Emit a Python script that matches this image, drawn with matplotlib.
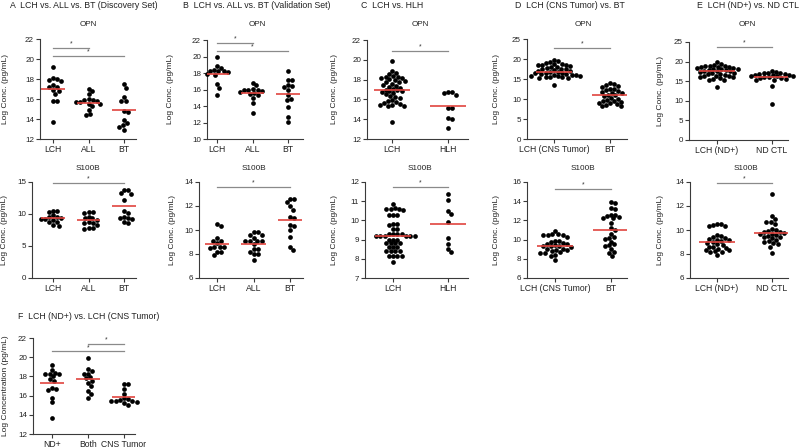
import numpy as np
import matplotlib
matplotlib.use('Agg')
import matplotlib.pyplot as plt

plt.rcParams['font.family'] = ['Liberation Sans', 'DejaVu Sans']

# ---------------- data ----------------
A_OPN_LCH = [19.2, 18.1, 18.0, 17.9, 17.8, 17.4, 17.2, 17.2, 16.9, 16.8, 16.5, 15.8, 15.8, 13.7]
A_OPN_ALL = [17.0, 16.8, 16.5, 16.0, 15.9, 15.9, 15.8, 15.7, 15.7, 15.5, 15.5, 15.3, 14.9, 14.5, 14.4]
A_OPN_BT = [17.5, 17.1, 16.2, 15.8, 15.8, 14.8, 14.7, 13.9, 13.6, 13.4, 13.2, 12.9]
A_OPN_MED = [17.0, 15.6, 14.9]

B_OPN_LCH = [19.9, 18.8, 18.6, 18.4, 18.3, 18.2, 18.2, 18.1, 17.9, 17.8, 16.7, 16.2, 15.3]
B_OPN_ALL = [16.8, 16.5, 16.1, 16.0, 16.0, 15.9, 15.8, 15.7, 15.6, 15.5, 15.3, 15.0, 14.4, 13.2]
B_OPN_BT = [18.2, 17.2, 17.1, 16.5, 16.4, 16.3, 15.9, 15.3, 14.9, 14.7, 13.9, 12.7, 12.1]
B_OPN_MED = [17.9, 15.6, 15.5]

C_OPN_LCH = [19.9, 18.9, 18.7, 18.6, 18.4, 18.3, 18.3, 18.2, 18.2, 18.1, 18.0, 17.9,
             17.8, 17.8, 17.6, 17.5, 17.4, 17.3, 17.2, 17.1, 17.0, 16.9, 16.8, 16.8,
             16.7, 16.6, 16.5, 16.3, 16.2, 16.1, 15.9, 15.8, 15.7, 15.6, 15.5,
             15.4, 15.4, 15.3, 15.3, 13.7]
C_OPN_HLH = [16.7, 16.6, 16.7, 16.4, 15.1, 15.1, 14.1, 14.0, 13.1]
C_OPN_MED = [17.0, 15.3]

D_OPN_LCH = [19.8, 19.4, 19.2, 18.9, 18.8, 18.7, 18.6, 18.5, 18.4, 18.2, 18.0, 17.9,
             17.8, 17.6, 17.5, 17.4, 17.2, 17.1, 17.0, 16.8, 16.7, 16.6, 16.5, 16.4,
             16.3, 16.2, 16.1, 16.0, 15.9, 15.8, 15.8, 15.7, 15.6, 15.5, 15.4, 15.3,
             15.2, 13.6]
D_OPN_BT = [13.9, 13.7, 13.6, 13.2, 13.0, 12.6, 12.5, 12.3, 12.1, 11.8, 11.6, 11.4,
            11.1, 10.9, 10.7, 10.3, 10.1, 9.7, 9.6, 9.4, 9.3, 9.1, 8.9, 8.7, 8.6, 8.3, 8.2]
D_OPN_MED = [16.8, 11.0]

E_OPN_LCH = [20.0, 19.4, 19.2, 19.0, 18.9, 18.8, 18.7, 18.6, 18.5, 18.4, 18.3, 18.2,
             18.1, 18.0, 17.9, 17.8, 17.7, 17.6, 17.5, 17.4, 17.2, 17.0, 16.9, 16.8,
             16.6, 16.4, 16.3, 16.2, 16.1, 16.0, 15.8, 15.6, 15.4, 15.2, 13.6]
E_OPN_CTL = [17.6, 17.4, 17.2, 17.1, 17.0, 16.9, 16.8, 16.7, 16.6, 16.5, 16.4, 16.3,
             16.2, 16.1, 16.0, 15.9, 15.8, 15.6, 15.4, 15.2, 13.7, 9.3]
E_OPN_MED = [17.6, 16.0]

A_S_LCH = [10.5, 10.5, 10.3, 9.8, 9.6, 9.6, 9.3, 9.2, 9.2, 9.0, 8.7, 8.7, 8.3, 8.1]
A_S_ALL = [10.3, 10.3, 10.2, 9.6, 9.3, 9.3, 9.1, 8.8, 8.6, 8.6, 8.3, 7.8, 7.8, 7.6]
A_S_BT = [13.8, 13.7, 13.3, 13.2, 12.2, 10.5, 10.1, 9.6, 9.4, 9.4, 9.2, 8.8, 8.6]
A_S_MED = [9.3, 9.0, 11.3]

B_S_LCH = [10.5, 10.3, 9.3, 9.1, 9.1, 8.9, 8.6, 8.6, 8.5, 8.6, 8.2, 8.2, 7.9]
B_S_ALL = [9.8, 9.8, 9.6, 9.6, 9.3, 9.1, 9.1, 9.1, 9.1, 8.8, 8.4, 8.4, 8.2, 8.0, 8.0, 7.5]
B_S_BT = [12.6, 12.6, 12.3, 12.0, 11.7, 11.1, 11.0, 10.4, 10.3, 10.0, 9.4, 8.6, 8.3]
B_S_MED = [8.85, 8.8, 10.85]

C_S_LCH = [10.88, 10.67, 10.57, 10.57, 10.57, 10.55, 10.3, 10.3, 10.3,
           9.8, 9.8, 9.75, 9.55, 9.55, 9.3, 9.3, 9.3, 9.3, 9.2, 9.2, 9.2, 9.2,
           9.2, 9.2, 9.0, 9.0, 9.0, 8.8, 8.8, 8.8, 8.8, 8.6, 8.6, 8.6,
           8.4, 8.4, 8.4, 8.4, 8.15, 8.15, 8.15, 8.15, 7.85]
C_S_HLH = [11.35, 11.05, 10.5, 10.35, 9.9, 9.1, 8.75, 8.5, 8.35]
C_S_MED = [9.2, 9.8]

D_S_LCH = [10.9, 10.6, 10.55, 10.5, 10.5, 10.45, 10.3, 9.9, 9.85, 9.8, 9.6, 9.55,
           9.5, 9.4, 9.35, 9.3, 9.3, 9.25, 9.05, 9.0, 8.95, 8.9, 8.8, 8.7,
           8.65, 8.6, 8.4, 8.3, 7.9]
D_S_BT = [13.9, 13.8, 13.3, 13.2, 12.6, 12.6, 12.5, 12.4, 12.3, 12.2, 11.7, 11.2,
          11.0, 10.6, 10.3, 10.2, 10.1, 9.8, 9.5, 9.4, 9.3, 9.0, 8.7, 8.6, 8.3]
D_S_MED = [9.35, 11.05]

E_S_LCH = [10.5, 10.5, 10.4, 10.3, 10.3, 9.6, 9.5, 9.45, 9.3, 9.25, 9.2, 9.1, 9.15,
           9.0, 8.95, 8.8, 8.75, 8.6, 8.55, 8.5, 8.45, 8.3, 8.3, 8.25, 8.2, 8.15, 7.9]
E_S_CTL = [13.0, 11.2, 10.9, 10.7, 10.65, 10.5, 10.1, 10.0, 9.9, 9.85, 9.8, 9.75,
           9.7, 9.65, 9.6, 9.5, 9.45, 9.4, 9.3, 9.2, 9.05, 9.0, 8.9, 8.85, 8.6, 8.1]
E_S_MED = [9.0, 9.75]

F_ND = [19.2, 18.7, 18.4, 18.3, 18.3, 18.2, 18.0, 17.7, 17.5, 16.8, 16.7, 16.6, 15.8, 15.3, 13.7]
F_BOTH = [19.9, 18.8, 18.6, 18.3, 18.2, 17.9, 17.8, 17.5, 17.3, 17.0, 16.5, 16.2, 15.8]
F_CNS = [17.2, 17.2, 16.7, 16.2, 15.7, 15.6, 15.5, 15.4, 15.4, 15.4, 15.3, 15.2, 15.0]
F_MED = [17.3, 17.7, 15.85]

CATS_3 = ['LCH', 'ALL', 'BT']
CATS_C = ['LCH', 'HLH']
CATS_D = ['LCH (CNS Tumor)', 'BT']
CATS_E = ['LCH (ND+)', 'ND CTL']
CATS_F = ['ND+', 'Both', 'CNS Tumor']

# ---------------- style ----------------
W, H = 800, 448
fig = plt.figure(figsize=(W / 100, H / 100), dpi=100)
RED = '#e0443e'
GRAY = '#8a8a8a'
AXC = '#3a3a3a'
TXT = '#222222'
DOT_PX = 4.4
FS_T = 6.3
FS_SUB = 5.9
FS_XT = 6.2
FS_YT = 5.8
FS_YL = 6.0


def swarm(values, pxu, d):
    ys = np.asarray(values, float) * pxu
    order = np.argsort(-ys, kind='stable')
    placed = []
    xs = np.zeros(len(ys))
    for i in order:
        y = ys[i]
        cands = [0.0]
        for px, py in placed:
            dy = abs(py - y)
            if dy < d:
                dx = np.sqrt(d * d - dy * dy)
                cands += [px + dx, px - dx]
        cands = sorted(cands, key=lambda c: (abs(c), -c))
        for c in cands:
            if all((c - px) ** 2 + (y - py) ** 2 >= d * d - 1e-6 for px, py in placed):
                xs[i] = c
                placed.append((c, y))
                break
    return xs


def panel(box, cat_px, ylim, yticks, cats, groups, medians, sigs,
          subtitle, sub_xy, ylabel, ylabel_x):
    L, R, T, B = box
    ax = fig.add_axes([L / W, 1 - B / H, (R - L) / W, (B - T) / H])
    s = cat_px[1] - cat_px[0]
    c0 = cat_px[0]
    ax.set_xlim((L - c0) / s, (R - c0) / s)
    ax.set_ylim(*ylim)
    pxu = (B - T) / (ylim[1] - ylim[0])
    for i, vals in enumerate(groups):
        off = swarm(vals, pxu, DOT_PX)
        ax.scatter(i + off / s, vals, s=11.5, c='black', linewidths=0,
                   clip_on=False, zorder=3)
        ax.plot([i - 0.33, i + 0.33], [medians[i]] * 2, color=RED, lw=1.2,
                zorder=4, solid_capstyle='butt')
    for a, b, yv in sigs:
        ax.plot([a, b], [yv, yv], color=GRAY, lw=0.9, clip_on=False)
        ax.text((a + b) / 2, yv + (ylim[1] - ylim[0]) * 0.005, '*',
                ha='center', va='bottom', fontsize=4.8, color='#333333')
    ax.set_xticks(range(len(cats)))
    ax.set_xticklabels(cats)
    ax.set_yticks(yticks)
    for sp in ['top', 'right']:
        ax.spines[sp].set_visible(False)
    for sp in ['left', 'bottom']:
        ax.spines[sp].set_color(AXC)
        ax.spines[sp].set_linewidth(0.8)
    ax.tick_params(axis='both', length=2.8, width=0.8, color=AXC, pad=1.5,
                   labelcolor=TXT)
    ax.tick_params(axis='x', labelsize=FS_XT)
    ax.tick_params(axis='y', labelsize=FS_YT)
    if subtitle:
        fig.text(sub_xy[0] / W, 1 - sub_xy[1] / H, subtitle, ha='center',
                 va='center', fontsize=FS_SUB, color=TXT)
    fig.text(ylabel_x / W, 1 - ((T + B) / 2) / H, ylabel, rotation=90,
             ha='center', va='center', fontsize=FS_YL, color=TXT)
    return ax


YL = 'Log Conc. (pg/mL)'

# Row 1: OPN
panel((40, 136, 39, 139), (53, 88.5), (12, 22), range(12, 23, 2), CATS_3,
      [A_OPN_LCH, A_OPN_ALL, A_OPN_BT], A_OPN_MED, [(0, 1, 21.1), (0, 2, 20.3)],
      'OPN', (88, 24), YL, 6)
panel((207, 303, 40, 139), (217, 252.5), (10, 22), range(10, 23, 2), CATS_3,
      [B_OPN_LCH, B_OPN_ALL, B_OPN_BT], B_OPN_MED, [(0, 1, 21.6), (0, 2, 20.7)],
      'OPN', (257, 24), YL, 170)
panel((367, 468, 40, 139), (392, 448), (12, 22), range(12, 23, 2), CATS_C,
      [C_OPN_LCH, C_OPN_HLH], C_OPN_MED, [(0, 1, 20.9)],
      'OPN', (420, 24), YL, 335)
panel((527, 627, 39, 139), (554, 610), (0, 25), range(0, 26, 5), CATS_D,
      [D_OPN_LCH, D_OPN_BT], D_OPN_MED, [(0, 1, 22.8)],
      'OPN', (583, 24), YL, 497)
panel((689, 788, 42, 140), (717, 772), (0, 25), range(0, 26, 5), CATS_E,
      [E_OPN_LCH, E_OPN_CTL], E_OPN_MED, [(0, 1, 23.7)],
      'OPN', (747, 24), YL, 660)

# Row 2: S100B
panel((32, 136, 182, 278), (53, 88.5), (0, 15), range(0, 16, 5), CATS_3,
      [A_S_LCH, A_S_ALL, A_S_BT], A_S_MED, [(0, 2, 14.9)],
      'S100B', (88, 169), YL, 5)
panel((199, 303, 182, 278), (217, 253.5), (6, 14), range(6, 15, 2), CATS_3,
      [B_S_LCH, B_S_ALL, B_S_BT], B_S_MED, [(0, 2, 13.6)],
      'S100B', (254, 169), YL, 172)
panel((365, 468, 182, 278), (393, 448), (7, 12), range(7, 13, 1), CATS_C,
      [C_S_LCH, C_S_HLH], C_S_MED, [(0, 1, 11.74)],
      'S100B', (420, 169), YL, 335)
panel((527, 627, 182, 278), (555, 611), (6, 16), range(6, 17, 2), CATS_D,
      [D_S_LCH, D_S_BT], D_S_MED, [(0, 1, 15.3)],
      'S100B', (583, 169), YL, 497)
panel((690, 788, 182, 278), (717, 772), (6, 14), range(6, 15, 2), CATS_E,
      [E_S_LCH, E_S_CTL], E_S_MED, [(0, 1, 13.9)],
      'S100B', (746, 169), YL, 661)

# Row 3: F
panel((33, 135, 338, 434), (52, 88), (12, 22), range(12, 23, 2), CATS_F,
      [F_ND, F_BOTH, F_CNS], F_MED, [(1, 2, 21.4), (0, 2, 20.6)],
      '', (88, 320), 'Log Concentration (pg/mL)', 6)

# Panel headings
heads = [
    ('A  LCH vs. ALL vs. BT (Discovery Set)', 10, 6),
    ('B  LCH vs. ALL vs. BT (Validation Set)', 183, 6),
    ('C  LCH vs. HLH', 361, 6),
    ('D  LCH (CNS Tumor) vs. BT', 515, 6),
    ('E  LCH (ND+) vs. ND CTL', 697, 6),
    ('F  LCH (ND+) vs. LCH (CNS Tumor)', 18, 316),
]
for txt, x, y in heads:
    fig.text(x / W, 1 - y / H, txt, ha='left', va='center', fontsize=FS_T,
             color=TXT)

fig.savefig('out.png', dpi=100, facecolor='white')
